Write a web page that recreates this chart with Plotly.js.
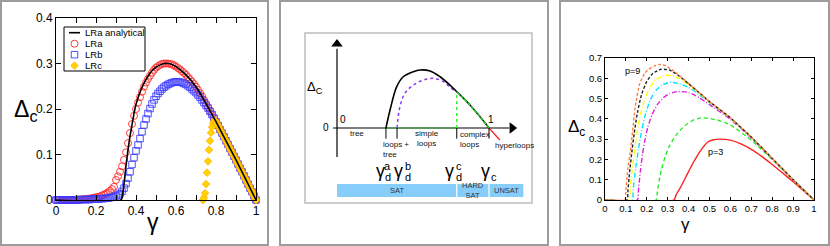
<!DOCTYPE html>
<html><head><meta charset="utf-8">
<script src="https://cdn.plot.ly/plotly-3.0.1.min.js"></script>
<style>html,body{margin:0;padding:0;background:#fff}#c{width:830px;height:246px}</style>
</head><body><div id="c"></div>
<script>
// ---------------- Panel (left): LR models ----------------
const gammaLR = [0,0.01,0.02,0.03,0.04,0.05,0.06,0.07,0.08,0.09,0.10,0.11,0.12,0.13,0.14,0.15,0.16,0.17,0.18,0.19,0.20,0.21,0.22,0.23,0.24,0.25,0.26,0.27,0.28,0.29,0.30,0.31,0.32,0.33,0.34,0.35,0.36,0.37,0.38,0.39,0.40,0.41,0.42,0.43,0.44,0.45,0.46,0.47,0.48,0.49,0.50,0.51,0.52,0.53,0.54,0.55,0.56,0.57,0.58,0.59,0.60,0.61,0.62,0.63,0.64,0.65,0.66,0.67,0.68,0.69,0.70,0.71,0.72,0.73,0.74,0.75,0.76,0.77,0.78,0.79,0.80,0.81,0.82,0.83,0.84,0.85,0.86,0.87,0.88,0.89,0.90,0.91,0.92,0.93,0.94,0.95,0.96,0.97,0.98,0.99,1.00];
const deltaLRa = [0,0,0,0,0,0,0,0,0,0,
 0.001,0.001,0.001,0.001,0.002,0.002,0.003,0.003,0.004,0.005,
 0.006,0.007,0.008,0.010,0.012,0.014,0.017,0.020,0.024,0.029,
 0.044,0.052,0.062,0.074,0.088,0.105,0.125,0.147,0.167,0.185,
 0.200,0.214,0.226,0.238,0.249,0.258,0.266,0.273,0.280,0.286,
 0.291,0.294,0.297,0.299,0.300,0.300,0.300,0.299,0.298,0.296,
 0.293,0.290,0.287,0.283,0.279,0.275,0.270,0.265,0.260,0.255,
 0.249,0.242,0.235,0.228,0.220,0.212,0.204,0.196,0.188,0.180,
 0.172,0.164,0.155,0.147,0.139,0.130,0.122,0.113,0.105,0.096,
 0.088,0.079,0.070,0.062,0.053,0.044,0.035,0.026,0.018,0.009,0];
const deltaLRb = [0,0,0,0,0,0,0,0,0,0,
 0,0,0.001,0.001,0.001,0.001,0.001,0.001,0.002,0.002,
 0.002,0.002,0.003,0.003,0.003,0.004,0.004,0.005,0.006,0.007,
 0.009,0.011,0.014,0.019,0.026,0.036,0.048,0.062,0.078,0.093,
 0.108,0.121,0.135,0.150,0.165,0.178,0.190,0.201,0.211,0.220,
 0.228,0.234,0.239,0.244,0.248,0.251,0.254,0.256,0.258,0.259,
 0.260,0.260,0.259,0.258,0.256,0.254,0.251,0.248,0.244,0.240,
 0.236,0.231,0.226,0.220,0.214,0.208,0.202,0.195,0.188,0.180,
 0.172,0.164,0.155,0.147,0.139,0.130,0.122,0.113,0.105,0.096,
 0.088,0.079,0.070,0.062,0.053,0.044,0.035,0.026,0.018,0.009,0];
const gammaLRc = [0.735,0.740,0.745,0.750,0.755,0.760,0.765,0.770,0.775,0.780,0.785,0.790,0.795,0.800,0.805,0.810,0.815,0.820,0.825,0.830,0.835,0.840,0.845,0.850,0.855,0.860,0.865,0.870,0.875,0.880,0.885,0.890,0.895,0.900,0.905,0.910,0.915,0.920,0.925,0.930,0.935,0.940,0.945,0.950,0.955,0.960,0.965,0.970,0.975,0.980,0.985,0.990,0.995,1.000];
const deltaLRc = [0.000,0.005,0.015,0.035,0.060,0.085,0.110,0.130,0.148,0.160,0.168,0.173,0.175,0.172,0.168,0.164,0.160,0.155,0.151,0.147,0.143,0.139,0.134,0.130,0.126,0.122,0.117,0.113,0.109,0.105,0.100,0.096,0.092,0.088,0.083,0.079,0.075,0.070,0.066,0.062,0.057,0.053,0.048,0.044,0.040,0.035,0.031,0.026,0.022,0.018,0.013,0.009,0.004,0];
const gammaAn = [0,0.325,0.335,0.34,0.35,0.36,0.37,0.38,0.39,0.40,0.42,0.44,0.46,0.48,0.50,0.52,0.54,0.56,0.58,0.60,0.65,0.70,0.75,0.80,0.85,0.90,0.95,1.0];
const deltaAn = [0,0,0.018,0.035,0.075,0.11,0.14,0.165,0.19,0.21,0.237,0.257,0.272,0.284,0.292,0.297,0.300,0.300,0.298,0.293,0.275,0.249,0.212,0.172,0.130,0.088,0.044,0];
const legendLabels = ['LRa analytical','LRa','LRb','LRc'];
const xTickVals1 = [0,0.2,0.4,0.6,0.8,1];
const xTickText1 = ['0','0.2','0.4','0.6','0.8','1'];
const yTickVals1 = [0,0.1,0.2,0.3,0.4];
const yTickText1 = ['0','0.1','0.2','0.3','0.4'];

// ---------------- Panel (middle): schematic ----------------
const schemBlackG = [0.322,0.349,0.393,0.436,0.502,0.546,0.612,0.678,0.743,0.788,0.875,0.941,1.0];
const schemBlackD = [0,0.093,0.214,0.265,0.291,0.300,0.295,0.265,0.222,0.188,0.119,0.058,0];
const schemPurpleG = [0.395,0.414,0.447,0.502,0.568,0.634,0.699,0.765,0.788];
const schemPurpleD = [0,0.11,0.18,0.222,0.248,0.257,0.240,0.197,0.188];
const schemGreenG = [0.788,0.875,0.941,1.0];
const schemGreenD = [0.188,0.119,0.058,0];
const schemRedG = [1.0,1.072];
const schemRedD = [0,-0.062];
const gammaMarks = [0.322,0.395,0.788,1.0];   // γd^a, γd^b, γd^c, γc
const phaseNames = ['SAT','HARD<br>SAT','UNSAT'];
const phaseEdges = [0,0.788,1.0,1.23];
const schemAxisEnds = {gMin:-0.026, gMax:1.184, dMin:-0.15, dMax:0.46};

// ---------------- Panel (right): p = 3..9 ----------------
const pG = {
 p9:[0,0.095,0.10,0.105,0.11,0.12,0.13,0.145,0.165,0.19,0.21,0.235,0.26,0.29,0.33,0.40,0.45,0.5,0.6,0.7,0.8,0.9,1],
 p8:[0,0.105,0.11,0.115,0.12,0.13,0.14,0.155,0.175,0.20,0.23,0.27,0.31,0.35,0.40,0.45,0.5,0.6,0.7,0.8,0.9,1],
 p7:[0,0.115,0.12,0.125,0.13,0.14,0.15,0.165,0.185,0.21,0.24,0.29,0.33,0.37,0.40,0.45,0.5,0.6,0.7,0.8,0.9,1],
 p6:[0,0.13,0.135,0.14,0.15,0.16,0.175,0.19,0.21,0.235,0.27,0.31,0.35,0.40,0.45,0.5,0.6,0.7,0.8,0.9,1],
 p5:[0,0.155,0.16,0.165,0.17,0.18,0.19,0.205,0.225,0.25,0.28,0.31,0.35,0.40,0.45,0.5,0.6,0.7,0.8,0.9,1],
 p4:[0,0.245,0.25,0.26,0.27,0.29,0.31,0.34,0.38,0.42,0.46,0.5,0.55,0.6,0.7,0.8,0.9,1],
 p3:[0,0.33,0.34,0.36,0.38,0.40,0.42,0.455,0.49,0.52,0.55,0.6,0.65,0.7,0.75,0.8,0.85,0.9,0.95,1]
};
const pD = {
 p9:[0,0,0.05,0.11,0.16,0.23,0.32,0.46,0.57,0.625,0.645,0.66,0.668,0.662,0.635,0.575,0.53,0.485,0.405,0.31,0.205,0.10,0],
 p8:[0,0,0.05,0.11,0.16,0.25,0.33,0.43,0.52,0.585,0.625,0.645,0.64,0.615,0.573,0.53,0.485,0.405,0.31,0.205,0.10,0],
 p7:[0,0,0.05,0.10,0.15,0.23,0.31,0.40,0.48,0.545,0.59,0.615,0.61,0.59,0.568,0.527,0.483,0.404,0.31,0.205,0.10,0],
 p6:[0,0,0.05,0.10,0.18,0.25,0.34,0.41,0.475,0.53,0.565,0.58,0.575,0.555,0.52,0.48,0.402,0.308,0.204,0.10,0],
 p5:[0,0,0.05,0.10,0.15,0.23,0.29,0.36,0.42,0.47,0.505,0.525,0.535,0.53,0.505,0.47,0.398,0.306,0.203,0.10,0],
 p4:[0,0,0.04,0.10,0.15,0.22,0.27,0.32,0.365,0.393,0.405,0.402,0.39,0.37,0.295,0.20,0.10,0],
 p3:[0,0,0.025,0.06,0.10,0.14,0.18,0.24,0.285,0.297,0.30,0.295,0.277,0.25,0.215,0.175,0.133,0.09,0.046,0]
};
const pColor = {p9:'#ff7f3f',p8:'#222222',p7:'#ffff00',p6:'#00e5ff',p5:'#e020e0',p4:'#22ee22',p3:'#ff2020'};
const pDash = {p9:'3px,2px',p8:'3px,2px',p7:'5px,2px,1px,2px',p6:'5px,2px,1px,2px',p5:'5px,2px,1px,2px',p4:'4px,3px',p3:'solid'};
const xTickVals3 = [0,0.1,0.2,0.3,0.4,0.5,0.6,0.7,0.8,0.9,1];
const yTickVals3 = [0,0.1,0.2,0.3,0.4,0.5,0.6,0.7];

// ---------------- build ----------------
const W = 830, H = 246;
const px = v => v / W, py = v => 1 - v / H;
const FONT = 'Liberation Sans, Arial, Helvetica, sans-serif';

const styleAn  = {color:'#000', width:1.6};
const styleLRa = {symbol:'circle-open', size:7, color:'#ff2a2a', line:{width:0.9}};
const styleLRb = {symbol:'square-open', size:6.5, color:'#3b3bff', line:{width:0.9}};
const styleLRc = {symbol:'diamond', size:6, color:'#ffd400', line:{width:0.6, color:'#ffa200'}};

const traces = [];
traces.push({x:gammaLR, y:deltaLRa, xaxis:'x', yaxis:'y', mode:'markers', cliponaxis:false, marker:styleLRa});
traces.push({x:gammaLR, y:deltaLRb, xaxis:'x', yaxis:'y', mode:'markers', cliponaxis:false, marker:styleLRb});
traces.push({x:gammaLRc, y:deltaLRc, xaxis:'x', yaxis:'y', mode:'markers', cliponaxis:false, marker:styleLRc});
traces.push({x:gammaAn, y:deltaAn, xaxis:'x', yaxis:'y', mode:'lines',
  line:Object.assign({shape:'spline', smoothing:0.6}, styleAn)});

// hand-built legend (compact rows) on its own small axis, rows counted from the top
const legRow = i => 5.7 + 11 * i;
traces.push({x:[5,16], y:[legRow(0), legRow(0)], xaxis:'x4', yaxis:'y4', mode:'lines', line:styleAn});
traces.push({x:[10.5], y:[legRow(1)], xaxis:'x4', yaxis:'y4', mode:'markers', marker:styleLRa});
traces.push({x:[10.5], y:[legRow(2)], xaxis:'x4', yaxis:'y4', mode:'markers', marker:styleLRb});
traces.push({x:[10.5], y:[legRow(3)], xaxis:'x4', yaxis:'y4', mode:'markers', marker:styleLRc});

// schematic axes with arrow heads
const E = schemAxisEnds;
traces.push({x:[E.gMin, E.gMax - 0.05], y:[0,0], xaxis:'x2', yaxis:'y2', mode:'lines', line:{color:'#000', width:1.2}});
traces.push({x:[0,0], y:[E.dMin, E.dMax - 0.05], xaxis:'x2', yaxis:'y2', mode:'lines', line:{color:'#000', width:1.2}});
traces.push({x:[E.gMax - 0.032], y:[0], xaxis:'x2', yaxis:'y2', mode:'markers', cliponaxis:false,
  marker:{symbol:'triangle-right', size:10, color:'#000'}});
traces.push({x:[0], y:[E.dMax - 0.026], xaxis:'x2', yaxis:'y2', mode:'markers', cliponaxis:false,
  marker:{symbol:'triangle-up', size:10, color:'#000'}});
// schematic curves
traces.push({x:[gammaMarks[0], gammaMarks[2]], y:[0,0], xaxis:'x2', yaxis:'y2', mode:'lines',
  line:{color:'#1fbf1f', width:1.2, dash:'dot'}});
traces.push({x:schemPurpleG, y:schemPurpleD, xaxis:'x2', yaxis:'y2', mode:'lines',
  line:{color:'#8a3cf0', width:1.5, dash:'dot', shape:'spline'}});
traces.push({x:schemBlackG, y:schemBlackD, xaxis:'x2', yaxis:'y2', mode:'lines',
  line:{color:'#000', width:1.6, shape:'spline'}});
traces.push({x:schemGreenG, y:schemGreenD, xaxis:'x2', yaxis:'y2', mode:'lines',
  line:{color:'#22dd22', width:1.2, dash:'4px,1px', shape:'spline'}});
traces.push({x:[gammaMarks[2], gammaMarks[2]], y:[0, schemGreenD[0]], xaxis:'x2', yaxis:'y2', mode:'lines',
  line:{color:'#22ee22', width:1.3, dash:'dot'}});
traces.push({x:schemRedG, y:schemRedD, xaxis:'x2', yaxis:'y2', mode:'lines',
  line:{color:'#ff2020', width:1.2}});

// right panel curves (draw p3 first, p9 last)
['p3','p4','p5','p6','p7','p8','p9'].forEach(k => {
  traces.push({x:pG[k], y:pD[k], xaxis:'x3', yaxis:'y3', mode:'lines',
    line:{color:pColor[k], width:1.4, dash:pDash[k], shape:'spline', smoothing:0.5}});
});

const shapes = [];
[[1,268],[280,548],[560,829]].forEach(([a,b]) => {
  shapes.push({type:'rect', xref:'paper', yref:'paper', x0:px(a), x1:px(b), y0:py(245), y1:py(1),
    line:{color:'#9c9c9c', width:2}, layer:'below'});
});
shapes.push({type:'rect', xref:'paper', yref:'paper', x0:px(64), x1:px(145), y0:py(71), y1:py(27),
  line:{color:'#000', width:1}, fillcolor:'#fff', layer:'below'});
shapes.push({type:'rect', xref:'paper', yref:'paper', x0:px(305), x1:px(532), y0:py(203), y1:py(33),
  line:{color:'#bdbdbd', width:1.5}, layer:'below'});
gammaMarks.forEach(g => {
  shapes.push({type:'line', xref:'x2', yref:'y2', x0:g, x1:g, y0:0, y1:-0.055, line:{color:'#000', width:1}});
});
for (let i = 0; i < phaseNames.length; i++) {
  shapes.push({type:'rect', xref:'x2', yref:'y2', x0:phaseEdges[i]+(i?0.004:0), x1:phaseEdges[i+1]-0.004,
    y0:-0.357, y1:-0.29, fillcolor:'#87cdfa', line:{width:0}});
}

const annotations = [];
const A = (o) => annotations.push(Object.assign({showarrow:false, xanchor:'center', yanchor:'middle',
  font:{family:FONT, size:8, color:'#111'}}, o));
legendLabels.forEach((t, i) => A({xref:'x4', yref:'y4', x:18.5, y:legRow(i), xanchor:'left', text:t,
  font:{family:FONT, size:9.5, color:'#000'}}));
A({xref:'paper', yref:'paper', x:px(25), y:py(110), text:'Δ<sub>c</sub>', font:{family:FONT, size:23, color:'#000'}});
A({xref:'paper', yref:'paper', x:px(153), y:py(222), text:'γ', font:{family:FONT, size:23, color:'#000'}});
A({xref:'paper', yref:'paper', x:px(576), y:py(128), text:'Δ<sub>c</sub>', font:{family:FONT, size:17, color:'#000'}});
A({xref:'paper', yref:'paper', x:px(685), y:py(224), text:'γ', font:{family:FONT, size:17, color:'#000'}});
A({xref:'x3', yref:'y3', x:0.13, y:0.635, text:'p=9', font:{family:FONT, size:9, color:'#000'}});
A({xref:'x3', yref:'y3', x:0.53, y:0.235, text:'p=3', font:{family:FONT, size:9, color:'#000'}});
// schematic texts
A({xref:'x2', yref:'y2', x:-0.04, y:0, xanchor:'right', text:'0', font:{family:FONT, size:10, color:'#000'}});
A({xref:'x2', yref:'y2', x:0.04, y:0.042, text:'0', font:{family:FONT, size:10, color:'#000'}});
A({xref:'x2', yref:'y2', x:1.013, y:0.042, text:'1', font:{family:FONT, size:10, color:'#000'}});
A({xref:'x2', yref:'y2', x:-0.145, y:0.207, text:'Δ<sub>C</sub>', font:{family:FONT, size:13, color:'#000'}});
A({xref:'x2', yref:'y2', x:0.132, y:-0.031, text:'tree'});
A({xref:'x2', yref:'y2', x:0.288, y:-0.111, xanchor:'left', align:'left', text:'loops +<br>tree'});
A({xref:'x2', yref:'y2', x:0.592, y:-0.054, text:'simple<br>loops'});
A({xref:'x2', yref:'y2', x:0.798, y:-0.057, xanchor:'left', align:'left', text:'complex<br>loops'});
A({xref:'x2', yref:'y2', x:1.024, y:-0.088, xanchor:'left', text:'hyperloops'});
const G = (xg, xs, sup, sub) => {
  A({xref:'x2', yref:'y2', x:xg, y:-0.225, text:'γ', font:{family:FONT, size:18, color:'#000'}});
  if (sup) A({xref:'x2', yref:'y2', x:xs, y:-0.197, text:sup, font:{family:FONT, size:11, color:'#000'}});
  if (sub) A({xref:'x2', yref:'y2', x:xs, y:-0.255, text:sub, font:{family:FONT, size:11, color:'#000'}});
};
G(0.286, 0.334, 'a', 'd');
G(0.403, 0.469, 'b', 'd');
G(0.743, 0.803, 'c', 'd');
G(0.976, 1.036, '', 'c');
for (let i = 0; i < phaseNames.length; i++) {
  A({xref:'x2', yref:'y2', x:(phaseEdges[i]+phaseEdges[i+1])/2, y:-0.3235, text:phaseNames[i],
    font:{family:FONT, size:7.5, color:'#333'}});
}

const axBase = {showgrid:false, zeroline:false, showline:true, linecolor:'#000', linewidth:1, mirror:'allticks',
  ticks:'inside', tickcolor:'#000', ticklen:5, tickwidth:1, tickmode:'array'};

const layout = {
  width:W, height:H, margin:{l:0,r:0,t:0,b:0}, paper_bgcolor:'#fff', plot_bgcolor:'rgba(0,0,0,0)',
  font:{family:FONT, color:'#000'},
  showlegend:false,
  xaxis:Object.assign({}, axBase, {domain:[px(56), px(256)], range:[0,1], tickvals:xTickVals1, ticktext:xTickText1,
    tickfont:{size:12}, anchor:'y', minor:{dtick:0.1, tick0:0, ticks:'inside', ticklen:5, tickcolor:'#000', showgrid:false}}),
  yaxis:Object.assign({}, axBase, {domain:[py(200), py(18)], range:[0,0.4], tickvals:yTickVals1, ticktext:yTickText1,
    tickfont:{size:12}, anchor:'x'}),
  xaxis2:{domain:[px(305), px(532)], range:[-0.2105, 1.2829], visible:false, anchor:'y2', fixedrange:true},
  yaxis2:{domain:[py(203), py(33)], range:[-0.388, 0.4914], visible:false, anchor:'x2', fixedrange:true},
  xaxis3:Object.assign({}, axBase, {domain:[px(605), px(814)], range:[0,1], tickvals:xTickVals3,
    tickfont:{size:9.5}, ticklen:3, anchor:'y3'}),
  yaxis3:Object.assign({}, axBase, {domain:[py(200), py(58)], range:[0,0.7], tickvals:yTickVals3,
    tickfont:{size:9.5}, ticklen:3, anchor:'x3'}),
  xaxis4:{domain:[px(64), px(145)], range:[0,81], visible:false, anchor:'y4', fixedrange:true},
  yaxis4:{domain:[py(71), py(27)], range:[44,0], visible:false, anchor:'x4', fixedrange:true},
  shapes:shapes, annotations:annotations
};
Plotly.newPlot('c', traces, layout, {staticPlot:true, displayModeBar:false});
</script></body></html>
